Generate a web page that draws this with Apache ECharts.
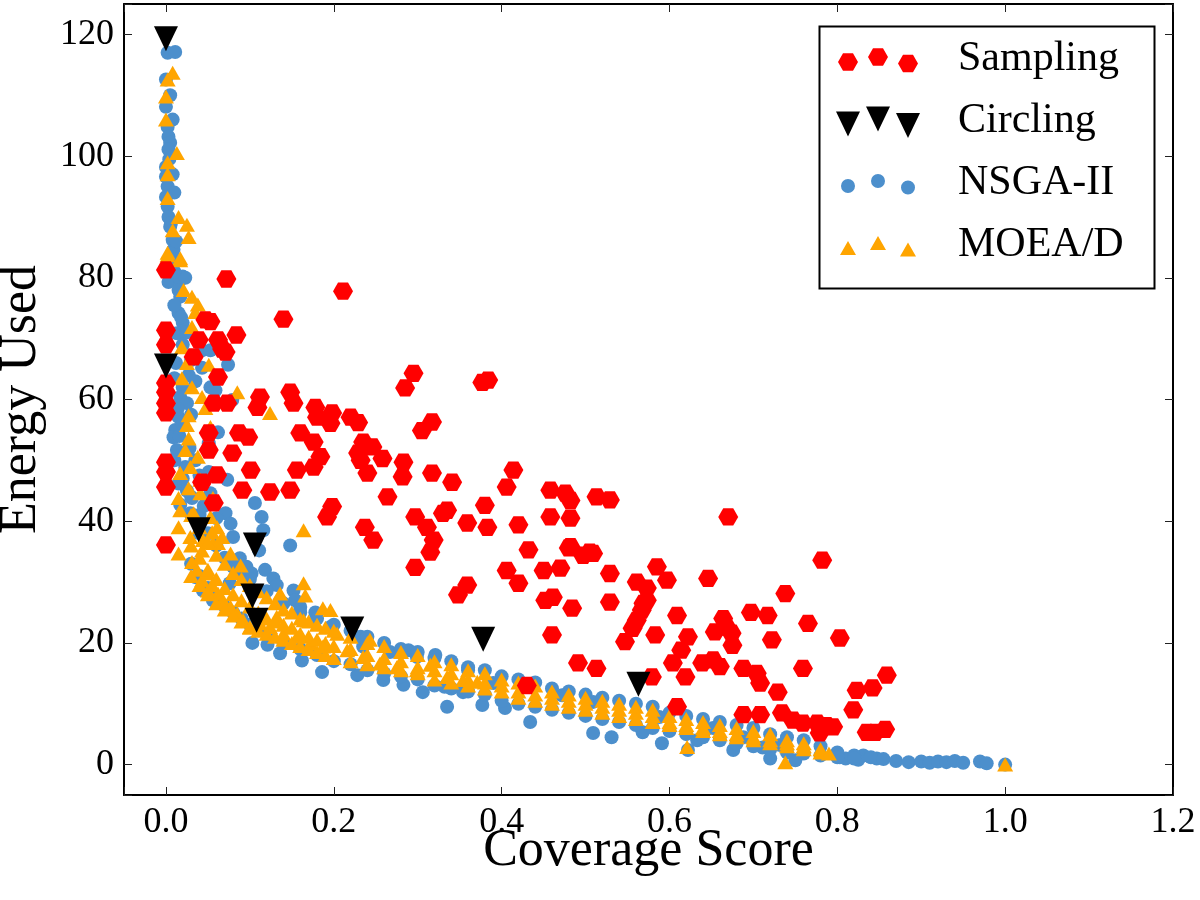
<!DOCTYPE html>
<html>
<head>
<meta charset="utf-8">
<title>Coverage vs Energy</title>
<script src="https://cdn.jsdelivr.net/npm/echarts@6/dist/echarts.min.js"></script>
<style>
  html, body { margin: 0; padding: 0; background: #fff; }
  #main { width: 1200px; height: 900px; }
</style>
</head>
<body>
<div id="main"></div>
<script>
// [coverage score, energy used]
const sampling = [
  [0.0,81.3],[0.0,71.4],[0.0,69.0],[0.0,62.7],[0.0,61.2],[0.0,59.4],[0.0,57.8],[0.0,49.7],[0.0,48.1],[0.0,45.6],[0.0,36.1],
  [0.072,79.8],[0.211,77.8],[0.140,73.2],[0.047,73.1],[0.053,72.8],[0.084,70.6],[0.039,69.8],[0.062,69.8],[0.067,68.3],
  [0.033,67.0],[0.071,67.8],[0.062,63.7],[0.295,64.3],[0.285,61.9],[0.112,60.4],[0.109,58.7],[0.148,61.2],[0.152,59.4],
  [0.057,59.4],[0.073,59.4],[0.178,58.7],[0.180,57.1],[0.198,57.8],[0.196,56.1],[0.220,57.1],[0.229,56.2],[0.317,56.3],
  [0.305,54.9],[0.087,54.5],[0.098,53.8],[0.051,54.5],[0.160,54.5],[0.176,53.0],[0.235,53.0],[0.246,52.2],[0.051,51.7],
  [0.079,51.2],[0.184,50.6],[0.232,50.0],[0.258,50.3],[0.283,49.7],[0.101,48.4],[0.156,48.4],[0.176,48.9],[0.240,47.9],
  [0.282,47.3],[0.317,47.9],[0.061,47.6],[0.043,46.4],[0.091,45.1],[0.124,44.8],[0.148,45.1],[0.057,43.0],[0.264,44.0],
  [0.198,42.4],[0.192,40.7],[0.237,39.0],[0.247,36.9],[0.297,40.7],[0.311,39.0],[0.319,36.9],[0.330,41.3],[0.297,32.4],
  [0.377,62.8],[0.384,63.2],[0.229,51.2],[0.341,46.4],[0.414,48.4],[0.406,45.6],[0.380,42.6],[0.458,45.1],[0.476,44.6],
  [0.482,43.4],[0.513,44.0],[0.529,43.5],[0.335,41.8],[0.315,34.9],[0.359,39.7],[0.383,39.0],[0.420,39.4],[0.458,40.7],
  [0.482,40.5],[0.432,35.3],[0.482,35.8],[0.505,34.9],[0.480,35.6],[0.497,34.4],[0.509,34.7],[0.406,31.9],[0.420,29.8],
  [0.450,31.9],[0.470,32.3],[0.529,31.4],[0.585,32.5],[0.597,30.3],[0.561,30.0],[0.573,29.0],[0.646,30.6],[0.670,40.7],
  [0.782,33.6],[0.452,27.0],[0.461,27.5],[0.484,25.7],[0.529,26.7],[0.573,27.0],[0.567,25.4],[0.561,23.7],[0.556,22.4],
  [0.738,28.1],[0.609,24.5],[0.664,24.0],[0.668,22.6],[0.697,25.0],[0.717,24.5],[0.675,19.6],[0.654,21.8],[0.765,23.2],
  [0.722,20.5],[0.803,20.8],[0.460,21.3],[0.547,20.2],[0.583,21.3],[0.622,21.0],[0.614,18.8],[0.604,16.7],[0.619,14.4],
  [0.639,16.7],[0.652,17.2],[0.660,16.1],[0.688,15.8],[0.704,15.0],[0.708,13.4],[0.729,11.9],[0.759,15.8],[0.491,16.7],
  [0.513,15.8],[0.579,14.4],[0.430,13.0],[0.609,9.5],[0.688,8.2],[0.708,8.2],[0.734,8.5],[0.747,7.3],[0.759,6.8],
  [0.776,6.8],[0.795,6.2],[0.779,5.2],[0.819,9.0],[0.823,12.2],[0.842,12.6],[0.835,5.3],[0.845,5.3],[0.359,29.5],
  [0.348,27.9],[0.569,26.5],[0.674,21.6],[0.787,6.4],[0.859,14.7],[0.857,5.8]
];

const circling = [
  [0.0,119.3],[0.0,65.5],[0.039,38.6],[0.106,36.1],[0.103,27.7],[0.108,23.7],[0.222,22.3],[0.378,20.6],[0.563,13.2]
];

const nsga2 = [
  [0.002,117.0],[0.011,117.1],[0.0,112.6],[0.0,108.1],[0.002,104.8],[0.003,103.2],[0.005,102.2],[0.003,101.1],[0.0,98.2],
  [0.0,96.6],[0.002,95.0],[0.0,93.3],[0.002,91.7],[0.003,90.0],[0.005,88.4],[0.008,86.2],[0.009,84.6],[0.005,82.9],
  [0.020,80.2],[0.003,79.3],[0.017,79.7],[0.023,80.0],[0.017,76.9],[0.015,74.2],[0.020,72.6],[0.013,70.9],[0.043,68.1],
  [0.053,68.1],[0.074,65.7],[0.043,65.2],[0.020,62.0],[0.053,62.0],[0.017,60.4],[0.025,59.4],[0.059,61.5],[0.079,59.9],
  [0.015,57.1],[0.011,55.0],[0.009,53.8],[0.062,54.6],[0.013,51.7],[0.051,52.8],[0.023,48.9],[0.051,48.1],[0.073,46.8],
  [0.015,46.2],[0.053,44.6],[0.031,43.8],[0.071,41.3],[0.077,39.6],[0.106,43.0],[0.114,40.7],[0.116,38.5],[0.148,36.0],
  [0.080,37.4],[0.017,42.7],[0.029,41.3],[0.111,35.2],[0.035,30.8],[0.044,28.6],[0.056,27.0],[0.076,29.8],[0.088,33.9],
  [0.096,32.5],[0.102,31.4],[0.118,32.0],[0.128,30.6],[0.132,29.5],[0.152,28.6],[0.154,27.0],[0.160,25.9],[0.178,25.0],
  [0.196,22.6],[0.103,20.0],[0.121,19.7],[0.136,18.3],[0.162,17.1],[0.186,15.2],[0.232,21.0],[0.235,19.4],[0.267,18.5],
  [0.289,18.8],[0.299,17.7],[0.321,18.0],[0.306,11.9],[0.335,9.5],[0.360,15.5],[0.228,14.7],[0.259,13.9],[0.283,13.1],
  [0.354,11.9],[0.332,12.8],[0.377,9.8],[0.390,13.4],[0.404,9.3],[0.434,7.0],[0.472,11.4],[0.509,10.3],
  [0.509,5.2],[0.531,4.5],[0.568,5.3],[0.588,7.8],[0.591,3.5],[0.622,2.4],[0.652,6.0],[0.676,2.4],[0.720,1.0],
  [0.750,0.7],[0.803,1.2],[0.831,1.5],[0.847,1.0],[0.732,3.2],[0.711,2.8],[0.633,4.0],[0.688,4.5],
  [0.810,1.0],[0.825,0.8],[0.840,1.2],[0.855,0.9],[0.870,0.6],[0.885,0.4],[0.900,0.5],[0.910,0.3],[0.920,0.5],
  [0.930,0.4],[0.940,0.6],[0.950,0.3],[0.970,0.5],[0.978,0.2],[1.0,0.0],
  // the column near zero coverage
  [0.005,110.0],[0.008,106.0],[0.004,99.5],[0.008,97.0],[0.010,94.0],[0.006,89.0],[0.012,86.0],[0.012,83.0],[0.010,81.0],
  [0.015,78.0],[0.010,75.5],[0.018,73.5],[0.024,71.0],[0.020,69.0],[0.030,66.5],[0.012,66.0],[0.027,64.0],[0.010,63.5],
  [0.035,63.0],[0.014,58.5],[0.030,57.5],[0.020,56.0],[0.016,54.0],[0.028,52.0],[0.010,50.0],[0.035,50.0],[0.020,47.0],
  [0.040,47.5],[0.025,45.0],[0.045,42.5],[0.060,40.5],[0.040,38.0],
  // the main front, upper and lower edge
  [0.03,44.0],[0.03,33.0],[0.04,41.0],[0.04,31.0],[0.05,38.0],[0.05,29.0],[0.06,36.0],[0.06,27.5],[0.07,34.0],[0.07,26.0],
  [0.08,32.5],[0.08,25.0],[0.09,31.5],[0.09,24.0],[0.10,30.5],[0.10,23.0],[0.12,28.5],[0.12,21.5],[0.14,26.5],[0.14,20.0],
  [0.16,25.0],[0.16,19.0],[0.18,24.0],[0.18,18.0],[0.20,23.0],[0.20,17.0],[0.22,22.0],[0.22,16.5],[0.24,21.0],[0.24,15.5],
  [0.26,20.0],[0.26,15.0],[0.28,19.0],[0.28,14.5],[0.30,18.5],[0.30,14.0],[0.32,17.5],[0.32,13.0],[0.34,17.0],[0.34,12.5],
  [0.36,16.0],[0.36,12.0],[0.38,15.5],[0.38,11.5],[0.40,14.5],[0.40,10.5],[0.42,14.0],[0.42,10.0],[0.44,13.5],[0.44,9.5],
  [0.46,12.5],[0.46,9.0],[0.48,12.0],[0.48,8.5],[0.50,11.5],[0.50,8.0],[0.52,11.0],[0.52,7.5],[0.54,10.5],[0.54,7.0],
  [0.56,10.0],[0.56,6.5],[0.58,9.5],[0.58,6.0],[0.60,8.5],[0.60,5.5],[0.62,8.0],[0.62,5.0],[0.64,7.5],[0.64,4.5],
  [0.66,7.0],[0.66,4.0],[0.68,6.5],[0.68,3.5],[0.70,6.0],[0.70,3.0],[0.72,5.0],[0.72,2.5],[0.74,4.5],[0.74,2.0],
  [0.76,4.0],[0.76,1.8],[0.78,3.0],[0.78,1.5],[0.80,2.0],[0.80,1.2],[0.82,1.5],[0.82,1.0]
];

const moead = [
  [0.008,113.7],[0.002,112.6],[0.0,109.8],[0.0,106.0],[0.013,100.5],[0.002,99.0],[0.002,97.0],[0.002,93.1],[0.015,90.0],
  [0.025,88.7],[0.027,86.7],[0.008,87.8],[0.002,84.1],[0.017,82.9],[0.002,83.7],[0.017,83.2],[0.021,78.0],[0.031,76.9],
  [0.038,75.6],[0.035,74.4],[0.031,71.9],[0.019,68.6],[0.025,66.0],[0.051,65.7],[0.019,63.5],[0.031,62.0],[0.043,60.4],
  [0.085,61.2],[0.047,58.6],[0.027,57.4],[0.025,55.8],[0.027,53.6],[0.053,55.5],[0.023,51.7],[0.038,50.6],[0.029,48.9],
  [0.017,47.9],[0.041,46.8],[0.027,45.4],[0.041,44.6],[0.015,43.8],[0.056,43.8],[0.017,41.8],[0.033,41.3],[0.053,40.7],
  [0.061,39.0],[0.015,39.0],[0.029,37.4],[0.044,36.9],[0.056,36.4],[0.164,38.5],[0.124,57.8],[0.015,34.7],[0.031,33.3],
  [0.037,32.0],[0.043,30.3],[0.050,31.4],[0.055,29.5],[0.062,28.1],[0.068,27.0],[0.077,25.9],[0.085,24.8],[0.092,23.7],
  [0.100,22.6],[0.062,36.4],[0.077,34.7],[0.089,32.7],[0.055,38.2],[0.067,37.4],[0.043,35.2],[0.050,28.6],[0.112,23.2],
  [0.124,22.6],[0.132,24.3],[0.136,28.1],[0.164,29.8],[0.166,27.8],[0.140,21.5],[0.156,21.0],[0.164,23.7],[0.172,19.9],
  [0.187,19.4],[0.204,21.5],[0.216,18.8],[0.235,17.7],[0.243,20.5],[0.255,16.6],[0.275,16.0],[0.299,15.5],[0.315,16.4],
  [0.335,14.4],[0.354,13.9],[0.371,13.6],[0.187,25.7],[0.196,25.4],[0.621,2.9],[0.738,0.4],[1.0,0.0],
  // the main front: upper edge, middle, lower edge
  [0.03,41.0],[0.03,36.0],[0.03,31.0],[0.04,39.0],[0.04,34.0],[0.04,29.5],[0.05,36.5],[0.05,32.0],[0.05,28.0],
  [0.06,34.5],[0.06,30.5],[0.06,26.5],[0.07,33.0],[0.07,29.0],[0.07,25.5],[0.08,31.5],[0.08,28.0],[0.08,24.5],
  [0.09,30.5],[0.09,27.0],[0.09,23.5],[0.10,29.5],[0.10,26.0],[0.10,22.5],[0.11,28.5],[0.11,25.0],[0.11,22.0],
  [0.12,27.5],[0.12,24.0],[0.12,21.5],[0.13,26.5],[0.13,23.5],[0.13,21.0],[0.14,25.5],[0.14,23.0],[0.14,20.5],
  [0.15,25.0],[0.15,22.5],[0.15,20.0],[0.16,24.0],[0.16,21.5],[0.16,19.5],[0.17,23.5],[0.17,21.0],[0.17,19.0],
  [0.18,23.0],[0.18,20.5],[0.18,18.5],[0.19,22.5],[0.19,20.0],[0.19,18.0],[0.20,22.0],[0.20,19.5],[0.20,17.5],
  [0.22,21.0],[0.22,19.0],[0.22,17.0],[0.24,20.0],[0.24,18.0],[0.24,16.5],[0.26,19.5],[0.26,17.5],[0.26,16.0],
  [0.28,18.5],[0.28,17.0],[0.28,15.5],[0.30,18.0],[0.30,16.0],[0.30,15.0],[0.32,17.0],[0.32,15.5],[0.32,14.0],
  [0.34,16.5],[0.34,15.0],[0.34,13.5],[0.36,15.5],[0.36,14.0],[0.36,13.0],[0.38,15.0],[0.38,13.5],[0.38,12.5],
  [0.40,14.0],[0.40,13.0],[0.40,12.0],[0.42,13.5],[0.42,12.0],[0.42,11.0],[0.44,13.0],[0.44,11.5],[0.44,10.5],
  [0.46,12.0],[0.46,11.0],[0.46,10.0],[0.48,11.5],[0.48,10.5],[0.48,9.5],[0.50,11.0],[0.50,10.0],[0.50,9.0],
  [0.52,10.5],[0.52,9.5],[0.52,8.5],[0.54,10.0],[0.54,9.0],[0.54,8.0],[0.56,9.5],[0.56,8.5],[0.56,7.5],
  [0.58,9.0],[0.58,8.0],[0.58,7.0],[0.60,8.0],[0.60,7.0],[0.60,6.5],[0.62,7.5],[0.62,6.5],[0.62,6.0],
  [0.64,7.0],[0.64,6.0],[0.64,5.5],[0.66,6.5],[0.66,5.5],[0.66,5.0],[0.68,6.0],[0.68,5.0],[0.68,4.5],
  [0.70,5.5],[0.70,4.5],[0.70,4.0],[0.72,5.0],[0.72,4.0],[0.72,3.5],[0.74,4.0],[0.74,3.5],[0.74,3.0],
  [0.76,3.5],[0.76,3.0],[0.76,2.5],[0.78,2.5],[0.78,2.0],[0.79,1.8]
];

const seriesNames = ['Sampling', 'Circling', 'NSGA-II', 'MOEA/D'];
const xTicks = [0.0, 0.2, 0.4, 0.6, 0.8, 1.0, 1.2];
const yTicks = [0, 20, 40, 60, 80, 100, 120];

const FONT = '"Liberation Serif", "DejaVu Serif", serif';
const HEX = 'path://M0 43.3 L25 0 L75 0 L100 43.3 L75 86.6 L25 86.6 Z';
const TRI_DOWN = 'path://M0 0 L100 0 L50 104 Z';

// legend handles: three markers each, like matplotlib scatterpoints=3
const FRAME = 'M0 0 M119 34 ';
const legendIcons = {
  'Sampling': 'path://' + FRAME +
    'M4 20 L9 11.34 L19 11.34 L24 20 L19 28.66 L9 28.66 Z ' +
    'M34 15 L39 6.34 L49 6.34 L54 15 L49 23.66 L39 23.66 Z ' +
    'M64 21.5 L69 12.84 L79 12.84 L84 21.5 L79 30.16 L69 30.16 Z',
  'Circling': 'path://' + FRAME +
    'M2 7.5 L26 7.5 L14 32.5 Z M32 2.5 L56 2.5 L44 27.5 Z M62 9 L86 9 L74 34 Z',
  'NSGA-II': 'path://' + FRAME +
    'M7 20 A7 7 0 1 0 21 20 A7 7 0 1 0 7 20 Z ' +
    'M37 15 A7 7 0 1 0 51 15 A7 7 0 1 0 37 15 Z ' +
    'M67 21.5 A7 7 0 1 0 81 21.5 A7 7 0 1 0 67 21.5 Z',
  'MOEA/D': 'path://' + FRAME +
    'M6 27 L22 27 L14 13 Z M36 22 L52 22 L44 8 Z M66 28.5 L82 28.5 L74 14.5 Z'
};

const onTick = (v, list) => list.some(t => Math.abs(t - v) < 1e-6);

const chart = echarts.init(document.getElementById('main'));

const axisCommon = {
  type: 'value',
  splitLine: {show: false},
  axisLine: {onZero: false, lineStyle: {color: '#000', width: 2}},
  axisTick: {inside: true, length: 8, lineStyle: {color: '#222', width: 1}},
};

chart.setOption({
  animation: false,
  backgroundColor: '#fff',
  textStyle: {fontFamily: FONT},
  grid: {left: 124, right: 27, top: 4, bottom: 105, containLabel: false, outerBoundsMode: 'none'},
  xAxis: [{
    ...axisCommon,
    min: -0.05, max: 1.2, splitNumber: 6,
    name: 'Coverage Score', nameLocation: 'middle', nameGap: 30, nameMoveOverlap: false,
    nameTextStyle: {fontFamily: FONT, fontSize: 52, color: '#000', verticalAlign: 'top'},
    axisLabel: {
      fontFamily: FONT, fontSize: 36, color: '#000', margin: 10,
      formatter: v => onTick(v, xTicks) ? v.toFixed(1) : ''
    }
  }, {
    ...axisCommon,
    position: 'top', min: -0.05, max: 1.2, splitNumber: 6,
    axisLabel: {show: false}
  }],
  yAxis: [{
    ...axisCommon,
    min: -5, max: 125, splitNumber: 6,
    name: 'Energy Used', nameLocation: 'middle', nameGap: 77, nameRotate: 90, nameMoveOverlap: false,
    nameTextStyle: {fontFamily: FONT, fontSize: 52, color: '#000'},
    axisLabel: {
      fontFamily: FONT, fontSize: 36, color: '#000', margin: 10,
      formatter: v => onTick(v, yTicks) ? String(Math.round(v)) : ''
    }
  }, {
    ...axisCommon,
    position: 'right', min: -5, max: 125, splitNumber: 6,
    axisLabel: {show: false}
  }],
  legend: {
    orient: 'vertical',
    left: 834, top: 38,
    padding: 0,
    itemWidth: 119, itemHeight: 34, itemGap: 20,
    symbolKeepAspect: false,
    selectedMode: false,
    textStyle: {fontFamily: FONT, fontSize: 42, color: '#000'},
    data: seriesNames.map(n => ({name: n, icon: legendIcons[n]}))
  },
  graphic: [{
    type: 'rect', left: 817, top: 24, z: 100,
    shape: {width: 335, height: 262},
    style: {fill: 'none', stroke: '#000', lineWidth: 2}
  }],
  series: [{
    name: seriesNames[0], type: 'scatter', data: sampling, z: 4,
    symbol: HEX, symbolSize: [20, 17.3],
    itemStyle: {color: '#ff0000', opacity: 1},
    emphasis: {disabled: true}
  }, {
    name: seriesNames[1], type: 'scatter', data: circling, z: 5,
    symbol: TRI_DOWN, symbolSize: [24, 25],
    itemStyle: {color: '#000', opacity: 1},
    emphasis: {disabled: true}
  }, {
    name: seriesNames[2], type: 'scatter', data: nsga2, z: 2,
    symbol: 'circle', symbolSize: 14,
    itemStyle: {color: '#4c8fcc', opacity: 1},
    emphasis: {disabled: true}
  }, {
    name: seriesNames[3], type: 'scatter', data: moead, z: 3,
    symbol: 'triangle', symbolSize: [16, 14],
    itemStyle: {color: '#ffa500', opacity: 1},
    emphasis: {disabled: true}
  }]
});
</script>
</body>
</html>
